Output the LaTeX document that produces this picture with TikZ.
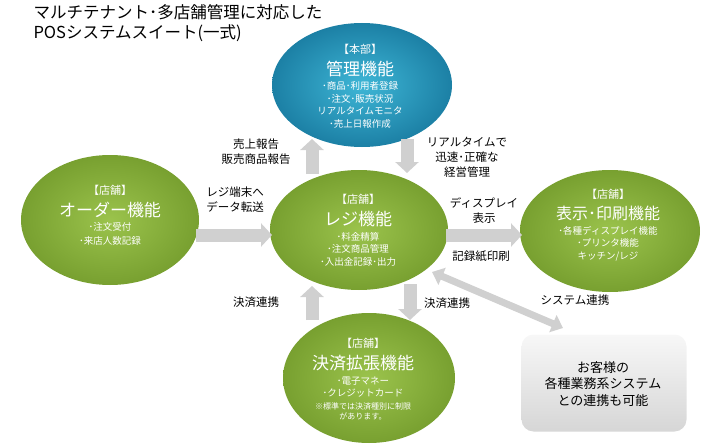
\documentclass[tikz,border=0pt]{standalone}
\usepackage{fontspec}
\setmainfont{Noto Sans CJK JP}
\usetikzlibrary{arrows.meta,shapes.geometric,calc}
\definecolor{leaflight}{RGB}{155,195,76}
\definecolor{leafdark}{RGB}{120,160,48}
\definecolor{sealight}{RGB}{62,182,214}
\definecolor{seadark}{RGB}{28,128,165}
\definecolor{arrowgray}{RGB}{208,208,208}

\tikzset{
  greenblob/.style={ellipse, draw=none, inner color=leaflight, outer color=leafdark},
  blueblob/.style={ellipse, draw=none, inner color=sealight, outer color=seadark},
  blobtext/.style={text=white, align=center, font=\fontsize{9.5}{12.5}\selectfont},
  sidetext/.style={align=center, font=\fontsize{11.5}{15}\selectfont},
  fatarrow/.style={arrowgray, line width=13pt, -{Triangle[length=11pt,width=23pt]}},
  twoarrow/.style={arrowgray, line width=7pt, {Triangle[length=11pt,width=18pt]}-{Triangle[length=11pt,width=18pt]}},
}

\begin{document}
\begin{tikzpicture}[x=1pt,y=-1pt]
    \useasboundingbox (0,0) rectangle (710,444);
    % \draw[step=50,gray,very thin] (0,0) grid (710,444);
    \node[anchor=west, align=left, font=\fontsize{16.5}{20}\selectfont] (title) at (30,23)
      {マルチテナント･多店舗管理に対応した\\POSシステムスイート(一式)};

    \node[blueblob, minimum width=180pt, minimum height=124pt] (kanri) at (362,85) {};
    \node[greenblob, minimum width=178pt, minimum height=130pt] (order) at (110,220) {};
    \node[greenblob, minimum width=178pt, minimum height=120pt] (reji) at (359,230) {};
    \node[greenblob, minimum width=180pt, minimum height=122pt] (hyoji) at (610,231) {};
    \node[greenblob, minimum width=172pt, minimum height=130pt] (kessai) at (369,378) {};
    \node[draw=none, rounded corners=12pt, top color=gray!6, bottom color=gray!32,
          minimum width=165pt, minimum height=97pt] (kyaku) at (604,383) {};

    \node[blobtext] (kanri-t) at (360,86)
      {{\fontsize{11}{11}\selectfont 【本部】}\\[6pt]
       {\fontsize{17}{17}\selectfont 管理機能}\\[2pt]
       ･商品･利用者登録\\ ･注文･販売状況\\ リアルタイムモニタ\\ ･売上日報作成};
    \node[blobtext] (order-t) at (110,215)
      {{\fontsize{11}{11}\selectfont 【店舗】}\\[6pt]
       {\fontsize{17}{17}\selectfont オーダー機能}\\[2pt]
       ･注文受付\\[1pt] ･来店人数記録};
    \node[blobtext] (reji-t) at (358,230)
      {{\fontsize{11}{11}\selectfont 【店舗】}\\[6pt]
       {\fontsize{17}{17}\selectfont レジ機能}\\[2pt]
       ･料金精算\\ ･注文商品管理\\ ･入出金記録･出力};
    \node[blobtext] (hyoji-t) at (608,225)
      {{\fontsize{11}{11}\selectfont 【店舗】}\\[6pt]
       {\fontsize{16}{16}\selectfont 表示･印刷機能}\\[2pt]
       ･各種ディスプレイ機能\\ ･プリンタ機能\\ キッチン/レジ};
    \node[blobtext] (kessai-t) at (363,379)
      {{\fontsize{11}{11}\selectfont 【店舗】}\\[6pt]
       {\fontsize{17}{17}\selectfont 決済拡張機能}\\[2pt]
       ･電子マネー\\ ･クレジットカード\\
       {\fontsize{8}{8}\selectfont ※標準では決済種別に制限}\\[-2pt]
       {\fontsize{8}{8}\selectfont があります。}};
    \node[align=center, font=\fontsize{13}{16.5}\selectfont] (kyaku-t) at (603,384)
      {お客様の\\各種業務系システム\\との連携も可能};

    \node[sidetext] (uriage) at (256,152) {売上報告\\販売商品報告};
    \node[sidetext] (keiei) at (467,157) {リアルタイムで\\迅速･正確な\\経営管理};
    \node[sidetext] (tenso) at (235,200) {レジ端末へ\\データ転送};
    \node[sidetext] (disp) at (484,211) {ディスプレイ\\表示};
    \node[sidetext] (kiroku) at (481,256) {記録紙印刷};
    \node[sidetext] (renkei-l) at (256,302) {決済連携};
    \node[sidetext] (renkei-r) at (447,303) {決済連携};
    \node[sidetext] (system) at (575,300) {システム連携};

    \coordinate (up-a) at (312,174);   \coordinate (up-b) at (312,139);
    \coordinate (dn-a) at (407,139);   \coordinate (dn-b) at (407,173);
    \coordinate (rt-a) at (196,235);   \coordinate (rt-b) at (272,235);
    \coordinate (rt-c) at (446,235);   \coordinate (rt-d) at (522,235);
    \coordinate (up-c) at (312,320);   \coordinate (up-d) at (312,286);
    \coordinate (dn-c) at (410,284);   \coordinate (dn-d) at (410,320);
    \coordinate (dg-a) at (432,272);   \coordinate (dg-b) at (563,328);

    \draw[fatarrow] (up-a) -- (up-b);
    \draw[fatarrow] (dn-a) -- (dn-b);
    \draw[fatarrow] (rt-a) -- (rt-b);
    \draw[fatarrow] (rt-c) -- (rt-d);
    \draw[fatarrow] (up-c) -- (up-d);
    \draw[fatarrow] (dn-c) -- (dn-d);
    \draw[twoarrow] (dg-a) -- (dg-b);
\end{tikzpicture}
\end{document}
